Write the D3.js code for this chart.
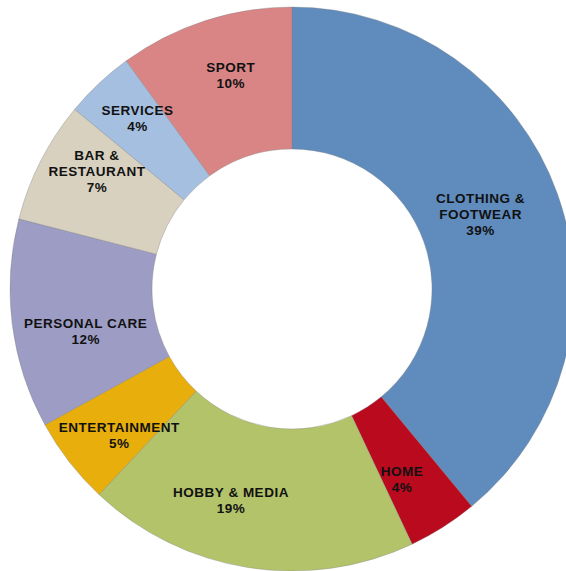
<!DOCTYPE html>
<html>
<head>
<meta charset="utf-8">
<script src="https://cdn.jsdelivr.net/npm/d3@7/dist/d3.min.js"></script>
<style>
  html, body { margin: 0; padding: 0; background: #fff; }
  svg { display: block; }
  .lbl { font-family: "Liberation Sans", Arial, sans-serif; font-weight: bold; font-size: 13.5px; letter-spacing: 0.5px; fill: #111; }
</style>
</head>
<body>
<svg id="chart" width="566" height="571"></svg>
<script>
// Spending share by category (percent)
const categories = ["CLOTHING & FOOTWEAR", "HOME", "HOBBY & MEDIA", "ENTERTAINMENT",
                    "PERSONAL CARE", "BAR & RESTAURANT", "SERVICES", "SPORT"];
const shares = [39, 4, 19, 5, 12, 7, 4, 10];
const labelLines = [["CLOTHING &", "FOOTWEAR"], ["HOME"], ["HOBBY & MEDIA"], ["ENTERTAINMENT"],
                    ["PERSONAL CARE"], ["BAR &", "RESTAURANT"], ["SERVICES"], ["SPORT"]];
const colors = ["#5F8BBD", "#BA0A1E", "#B2C36A", "#E8AE0C",
                "#9C9CC4", "#D8D1C0", "#A5BFE0", "#D98586"];

const data = categories.map((c, i) => ({ category: c, value: shares[i], lines: labelLines[i], color: colors[i] }));

const svg = d3.select("#chart");
const cx = 292, cy = 289, outerR = 282, innerR = 140;
const g = svg.append("g").attr("transform", `translate(${cx},${cy})`);

const pie = d3.pie().value(d => d.value).sort(null);
const arc = d3.arc().innerRadius(innerR).outerRadius(outerR);
const arcs = pie(data);

g.selectAll("path.slice")
  .data(arcs)
  .join("path")
  .attr("class", "slice")
  .attr("d", arc)
  .attr("fill", d => d.data.color)
  .attr("stroke", "#7f7f7f")
  .attr("stroke-opacity", 0.45)
  .attr("stroke-width", 0.8);

// Label placement: ring centroid, with small per-slice adjustments
const labelShift = {
  "CLOTHING & FOOTWEAR": [-10, -3], "HOME": [-3, 12], "HOBBY & MEDIA": [-28, 3],
  "ENTERTAINMENT": [-6, 17], "PERSONAL CARE": [3, 16], "BAR & RESTAURANT": [-7, -22],
  "SERVICES": [-10, -17], "SPORT": [4, -13]
};
const lineH = 16;

const labels = g.selectAll("text.lbl")
  .data(arcs)
  .join("text")
  .attr("class", "lbl")
  .attr("text-anchor", "middle")
  .attr("transform", d => {
    const [x, y] = arc.centroid(d);
    const s = labelShift[d.data.category];
    return `translate(${x + s[0]},${y + s[1]})`;
  });

labels.each(function(d) {
  const lines = d.data.lines.concat([d.data.value + "%"]);
  const t = d3.select(this);
  const top = -((lines.length - 1) * lineH) / 2;
  lines.forEach((ln, i) => {
    t.append("tspan")
      .attr("x", 0)
      .attr("y", top + i * lineH)
      .attr("dy", "0.35em")
      .text(ln);
  });
});
</script>
</body>
</html>
